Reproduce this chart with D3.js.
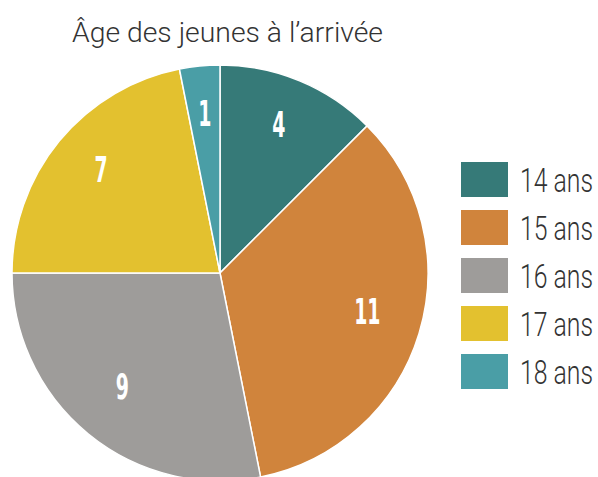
<!DOCTYPE html>
<html>
<head>
<meta charset="utf-8">
<script src="https://cdn.jsdelivr.net/npm/d3@7"></script>
<style>
  html, body { margin: 0; padding: 0; background: #fff; }
  svg { display: block; }
</style>
</head>
<body>
<svg id="chart" width="598" height="477"></svg>
<script>
// Age of young people on arrival
const categories = ["14 ans", "15 ans", "16 ans", "17 ans", "18 ans"];
const counts = [4, 11, 9, 7, 1];
const colors = ["#367a78", "#d0843c", "#9e9c9a", "#e3c12f", "#4a9ea6"];
const title = "Âge des jeunes à l’arrivée";

const svg = d3.select("#chart");
const cx = 220, cy = 273, R = 208;

const data = categories.map((c, i) => ({ cat: c, value: counts[i], color: colors[i] }));

svg.append("text")
  .attr("x", 72).attr("y", 42)
  .attr("textLength", 311).attr("lengthAdjust", "spacingAndGlyphs")
  .style("font-family", "Roboto").style("font-weight", 300)
  .style("font-size", "28px").style("fill", "#333")
  .text(title);

const pie = d3.pie().value(d => d.value).sort(null);
const arc = d3.arc().innerRadius(0).outerRadius(R);
const labelArc = d3.arc().innerRadius(R * 0.74).outerRadius(R * 0.74);

const g = svg.append("g").attr("transform", `translate(${cx},${cy})`);
const arcs = pie(data);

g.selectAll("path").data(arcs).join("path")
  .attr("d", arc)
  .attr("fill", d => d.data.color)
  .attr("stroke", "#fff").attr("stroke-width", 1.5);

g.selectAll("text.lbl").data(arcs).join("text")
  .attr("class", "lbl")
  .attr("transform", d => {
    const [x, y] = labelArc.centroid(d);
    return `translate(${x},${y - 6}) scale(0.6,1)`;
  })
  .attr("text-anchor", "middle").attr("dy", "0.36em")
  .style("font-family", "DejaVu Sans Condensed, DejaVu Sans").style("font-weight", "bold")
  .style("font-size", "35px").style("fill", "#fff")
  .text(d => d.data.value);

// Legend: swatch plus a tall, narrow label
const lg = svg.append("g");
const items = lg.selectAll("g").data(data).join("g")
  .attr("transform", (d, i) => `translate(461,${162 + i * 48})`);
items.append("rect")
  .attr("width", 47).attr("height", 35)
  .attr("fill", d => d.color);
items.append("text")
  .attr("transform", "translate(59,30) scale(1,1.27)")
  .attr("textLength", 73).attr("lengthAdjust", "spacingAndGlyphs")
  .style("font-family", "Roboto").style("font-weight", 300)
  .style("font-size", "26px").style("fill", "#333")
  .text(d => d.cat);
</script>
</body>
</html>
